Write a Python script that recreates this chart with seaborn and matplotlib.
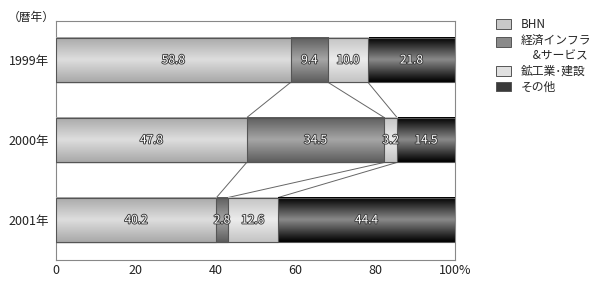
import numpy as np
import pandas as pd
import matplotlib
matplotlib.use("Agg")
import matplotlib.pyplot as plt
import matplotlib.patheffects as pe
from matplotlib.colors import LinearSegmentedColormap
from matplotlib.patches import Patch, Rectangle
from matplotlib.legend_handler import HandlerPatch
import seaborn as sns

years = ["1999年", "2000年", "2001年"]
categories = ["BHN", "経済インフラ\n　&サービス", "鉱工業･建設", "その他"]
bhn = [58.8, 47.8, 40.2]
infra = [9.4, 34.5, 2.8]
mining = [10.0, 3.2, 12.6]
other = [21.8, 14.5, 44.4]
xtick_labels = ["0", "20", "40", "60", "80", "100%"]

series = [bhn, infra, mining, other]
# gradient colors (edge, center) per category
grad = [("#a9a9a9", "#dedede"), ("#5e5e5e", "#a6a6a6"),
        ("#c4c4c4", "#ececec"), ("#000000", "#8a8a8a")]
mid = ["#c8c8c8", "#8a8a8a", "#e0e0e0", "#3a3a3a"]

sns.set_theme(style="white")
plt.rcParams["font.family"] = ["Noto Sans CJK JP", "DejaVu Sans"]

fig = plt.figure(figsize=(5.9, 2.82), dpi=100)
ax = fig.add_axes([56 / 590, 1 - 260 / 282, 399 / 590, 239 / 282])

vals = np.array(series)  # shape (4, 3)
cum = np.cumsum(vals, axis=0)

# draw cumulative bars from the largest (100%) to the smallest
for i in range(3, -1, -1):
    df = pd.DataFrame({"year": years, "val": cum[i]})
    sns.barplot(data=df, x="val", y="year", orient="h", color=mid[i],
                width=0.56, edgecolor="#555555", linewidth=0.8, ax=ax,
                saturation=1)

# gradients on each bar
patches = list(ax.patches)
order_cats = [3, 2, 1, 0]
z = 2
for k, p in enumerate(patches):
    ci = order_cats[k // 3]
    x0, y0 = p.get_x(), p.get_y()
    w, h = p.get_width(), p.get_height()
    cmap = LinearSegmentedColormap.from_list("g", [grad[ci][0], grad[ci][1], grad[ci][0]])
    g = np.linspace(0, 1, 64).reshape(-1, 1)
    ax.imshow(g, cmap=cmap, aspect="auto", extent=(x0, x0 + w, y0 + h, y0),
              zorder=z, interpolation="bicubic")
    p.set_facecolor("none")
    p.set_zorder(z + 0.5)
    z += 1

# labels
for yi in range(3):
    left = 0
    for ci in range(4):
        v = vals[ci][yi]
        ax.text(left + v / 2, yi, f"{v:.1f}", ha="center", va="center",
                fontsize=8.5, color="white", zorder=50,
                path_effects=[pe.withStroke(linewidth=1.3, foreground="#3a3a3a")])
        left += v

# connector lines
hh = 0.28
for yi in range(2):
    for ci in range(3):
        ax.plot([cum[ci][yi], cum[ci][yi + 1]], [yi + hh, yi + 1 - hh],
                color="#666666", lw=0.7, zorder=1)

ax.set_xlim(0, 100)
ax.set_ylim(2.5, -0.4875)
ax.set_xticks([0, 20, 40, 60, 80, 100])
ax.set_xticklabels(xtick_labels, fontsize=9, color="#222222")
ax.tick_params(axis="x", direction="in", length=5, color="#888888", pad=3)
ax.tick_params(axis="y", length=0, labelsize=9, labelcolor="#222222", pad=5)
ax.set_xlabel("")
ax.set_ylabel("")
for s in ax.spines.values():
    s.set_visible(True)
    s.set_color("#888888")
    s.set_linewidth(0.8)

fig.text(8 / 590, 1 - 17 / 282, "（暦年）", fontsize=8.5, ha="left", va="center",
         color="#222222")


class TopAlignedHandler(HandlerPatch):
    def __init__(self, shift, **kw):
        super().__init__(**kw)
        self.shift = shift

    def create_artists(self, legend, orig_handle, xdescent, ydescent,
                       width, height, fontsize, trans):
        r = Rectangle((-xdescent, -ydescent + self.shift), width, height)
        self.update_prop(r, orig_handle, legend)
        r.set_transform(trans)
        return [r]


handles = [Patch(facecolor=mid[i], edgecolor="#555555", linewidth=0.7) for i in range(4)]
handler_map = {handles[1]: TopAlignedHandler(shift=5.0)}
leg = fig.legend(handles, categories, loc="upper left",
                 bbox_to_anchor=(496 / 590, 1 - 18 / 282), frameon=False,
                 fontsize=8.5, handlelength=1.3, handleheight=0.85,
                 handletextpad=0.8, labelspacing=0.25, borderaxespad=0,
                 borderpad=0, handler_map=handler_map)

fig.savefig("out.png", dpi=100)
